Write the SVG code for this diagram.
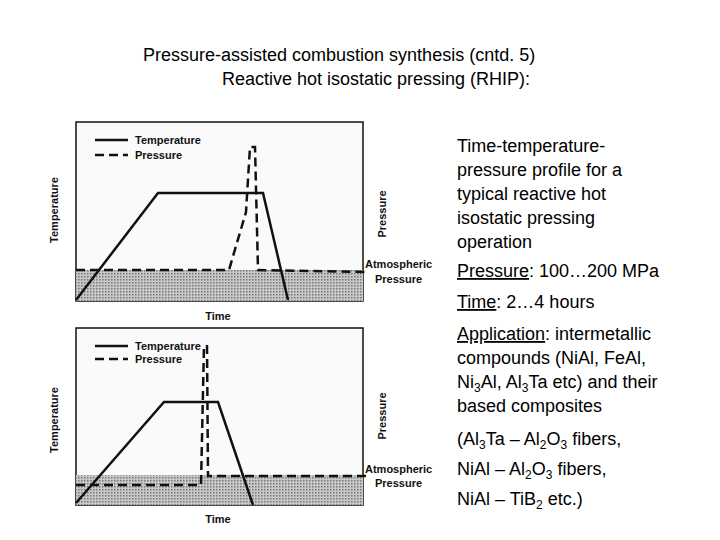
<svg xmlns="http://www.w3.org/2000/svg" width="720" height="540" viewBox="0 0 720 540">
<defs>
<pattern id="dots" width="3" height="3" patternUnits="userSpaceOnUse"><rect width="3" height="3" fill="#c8c8c8"/><rect width="1.5" height="1.5" fill="#777"/></pattern>
</defs>
<style>
.t{font-family:"Liberation Sans",Arial,sans-serif;font-size:18px;fill:#000}
.s{font-family:"Liberation Sans",Arial,sans-serif;font-size:11px;fill:#111;font-weight:bold}
.box{fill:#fafafa;stroke:#111;stroke-width:1.5}
.sol{fill:none;stroke:#111;stroke-width:2.5}
.dash{fill:none;stroke:#111;stroke-width:2.5;stroke-dasharray:9,5}
</style>
<rect width="720" height="540" fill="#fff"/>
<text class="t" x="143" y="61">Pressure-assisted combustion synthesis (cntd. 5)</text>
<text class="t" x="222" y="85">Reactive hot isostatic pressing (RHIP):</text>
<g id="graph1">
<rect class="box" x="76" y="122" width="287" height="179"/>
<rect x="76" y="270" width="287" height="31" fill="url(#dots)"/>
<polyline class="sol" points="76,300 158,193 263,193 288,300"/>
<polyline class="dash" points="76,270 229,270 246,212 250,147 255,147 258,270 368,272"/>
<line class="sol" x1="95" y1="140" x2="128" y2="140"/>
<line class="dash" x1="95" y1="155" x2="128" y2="155" stroke-dasharray="8,4"/>
<text class="s" x="135" y="144">Temperature</text>
<text class="s" x="135" y="159">Pressure</text>
<text class="s" transform="translate(58,210) rotate(-90)" text-anchor="middle">Temperature</text>
<text class="s" transform="translate(386,214) rotate(-90)" text-anchor="middle">Pressure</text>
<text class="s" x="365" y="268">Atmospheric</text>
<text class="s" x="375" y="283">Pressure</text>
<text class="s" x="218" y="320" text-anchor="middle">Time</text>
</g>
<g id="graph2">
<rect class="box" x="76" y="328" width="287" height="177"/>
<rect x="76" y="475" width="287" height="30" fill="url(#dots)"/>
<polyline class="sol" points="76,503 164,402 218,402 253,505"/>
<polyline class="dash" points="76,485 201,485 204,345"/>
<polyline class="dash" points="207,345 208,476 370,476"/>
<line class="sol" x1="95" y1="346" x2="128" y2="346"/>
<line class="dash" x1="95" y1="359" x2="128" y2="359" stroke-dasharray="8,4"/>
<text class="s" x="135" y="350">Temperature</text>
<text class="s" x="135" y="363">Pressure</text>
<text class="s" transform="translate(58,420) rotate(-90)" text-anchor="middle">Temperature</text>
<text class="s" transform="translate(386,416) rotate(-90)" text-anchor="middle">Pressure</text>
<text class="s" x="365" y="473">Atmospheric</text>
<text class="s" x="375" y="487">Pressure</text>
<text class="s" x="218" y="523" text-anchor="middle">Time</text>
</g>
<g id="notes" class="t">
<text class="t" x="457" y="152">Time-temperature-</text>
<text class="t" x="457" y="176">pressure profile for a</text>
<text class="t" x="457" y="200">typical reactive hot</text>
<text class="t" x="457" y="224">isostatic pressing</text>
<text class="t" x="457" y="248">operation</text>
<text class="t" x="457" y="277"><tspan text-decoration="underline">Pressure</tspan>: 100…200 MPa</text>
<text class="t" x="457" y="308"><tspan text-decoration="underline">Time</tspan>: 2…4 hours</text>
<text class="t" x="457" y="340"><tspan text-decoration="underline">Application</tspan>: intermetallic</text>
<text class="t" x="457" y="364">compounds (NiAl, FeAl,</text>
<text class="t" x="457" y="388">Ni<tspan font-size="12" dy="4">3</tspan><tspan dy="-4">Al, Al</tspan><tspan font-size="12" dy="4">3</tspan><tspan dy="-4">Ta etc) and their</tspan></text>
<text class="t" x="457" y="412">based composites</text>
<text class="t" x="457" y="445">(Al<tspan font-size="12" dy="4">3</tspan><tspan dy="-4">Ta – Al</tspan><tspan font-size="12" dy="4">2</tspan><tspan dy="-4">O</tspan><tspan font-size="12" dy="4">3</tspan><tspan dy="-4"> fibers,</tspan></text>
<text class="t" x="457" y="475">NiAl – Al<tspan font-size="12" dy="4">2</tspan><tspan dy="-4">O</tspan><tspan font-size="12" dy="4">3</tspan><tspan dy="-4"> fibers,</tspan></text>
<text class="t" x="457" y="505">NiAl – TiB<tspan font-size="12" dy="4">2</tspan><tspan dy="-4"> etc.)</tspan></text>
</g>
</svg>
